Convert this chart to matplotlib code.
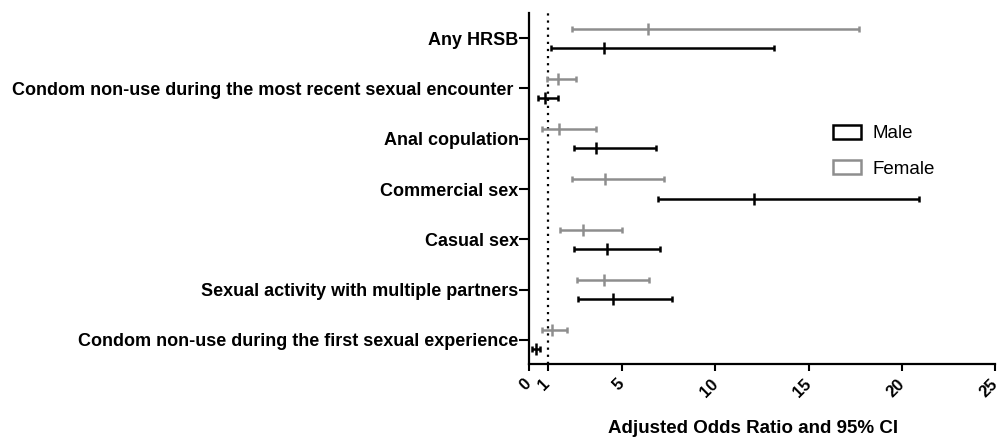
import matplotlib.pyplot as plt
from matplotlib.patches import Patch

plt.rcParams['font.family'] = ['Liberation Sans', 'DejaVu Sans']

# categories, bottom to top
categories = [
    'Condom non-use during the first sexual experience',
    'Sexual activity with multiple partners',
    'Casual sex',
    'Commercial sex',
    'Anal copulation',
    'Condom non-use during the most recent sexual encounter ',
    'Any HRSB',
]

# adjusted odds ratios with 95% CI
male_or = [0.36, 4.52, 4.16, 12.08, 3.62, 0.88, 4.05]
male_lo = [0.14, 2.63, 2.42, 6.94, 2.42, 0.47, 1.20]
male_hi = [0.59, 7.67, 7.04, 20.91, 6.83, 1.54, 13.12]

female_or = [1.24, 4.05, 2.90, 4.10, 1.61, 1.58, 6.40]
female_lo = [0.72, 2.56, 1.68, 2.29, 0.70, 0.97, 2.29]
female_hi = [2.04, 6.45, 4.98, 7.24, 3.60, 2.53, 17.69]

x_ticks = [0, 1, 5, 10, 15, 20, 25]

fig = plt.figure(figsize=(9.99, 4.41), dpi=100)
ax = fig.add_axes([529 / 999, 77 / 441, 466 / 999, 351 / 441])

ypos = list(range(len(categories)))
off = 0.19
gray = '#8e8e8e'

def draw(vals, lo, hi, shift, color):
    ys = [y + shift for y in ypos]
    err = [[v - l for v, l in zip(vals, lo)], [h - v for v, h in zip(vals, hi)]]
    ax.errorbar(vals, ys, xerr=err, fmt='|', color=color, ecolor=color,
                elinewidth=1.8, capsize=2.4, capthick=1.8,
                markersize=9, markeredgewidth=1.8)

draw(male_or, male_lo, male_hi, -off, 'black')
draw(female_or, female_lo, female_hi, off, gray)

ax.axvline(1, color='black', linestyle=(0, (1, 2.2)), linewidth=1.6, zorder=0)

ax.set_xlim(0, 25)
ax.set_ylim(-0.48, 6.5)
ax.set_yticks(ypos)
ax.set_yticklabels(categories, fontsize=13, fontweight='bold')
ax.set_xticks(x_ticks)
ax.set_xticklabels([str(t) for t in x_ticks], fontsize=12, fontweight='bold',
                   rotation=45, ha='right', va='center', rotation_mode='anchor')
ax.tick_params(axis='both', width=1.5, direction='out')
ax.tick_params(axis='y', length=7, pad=0.5)
ax.tick_params(axis='x', length=5, pad=7.5)

for s in ['top', 'right']:
    ax.spines[s].set_visible(False)
for s in ['left', 'bottom']:
    ax.spines[s].set_linewidth(1.6)

ax.set_xlabel('Adjusted Odds Ratio and 95% CI', fontsize=13.5, fontweight='bold')
ax.xaxis.set_label_coords(0.48, -0.16, transform=ax.transAxes)

handles = [Patch(facecolor='white', edgecolor='black', linewidth=1.8, label='Male'),
           Patch(facecolor='white', edgecolor=gray, linewidth=1.8, label='Female')]
fig.legend(handles=handles, loc='upper left', bbox_to_anchor=(816 / 999, 1 - 108 / 441),
           frameon=False, fontsize=13.5, handlelength=1.5, handleheight=0.75,
           labelspacing=0.95, handletextpad=0.6)

plt.savefig('out.png', dpi=100)
plt.close()
